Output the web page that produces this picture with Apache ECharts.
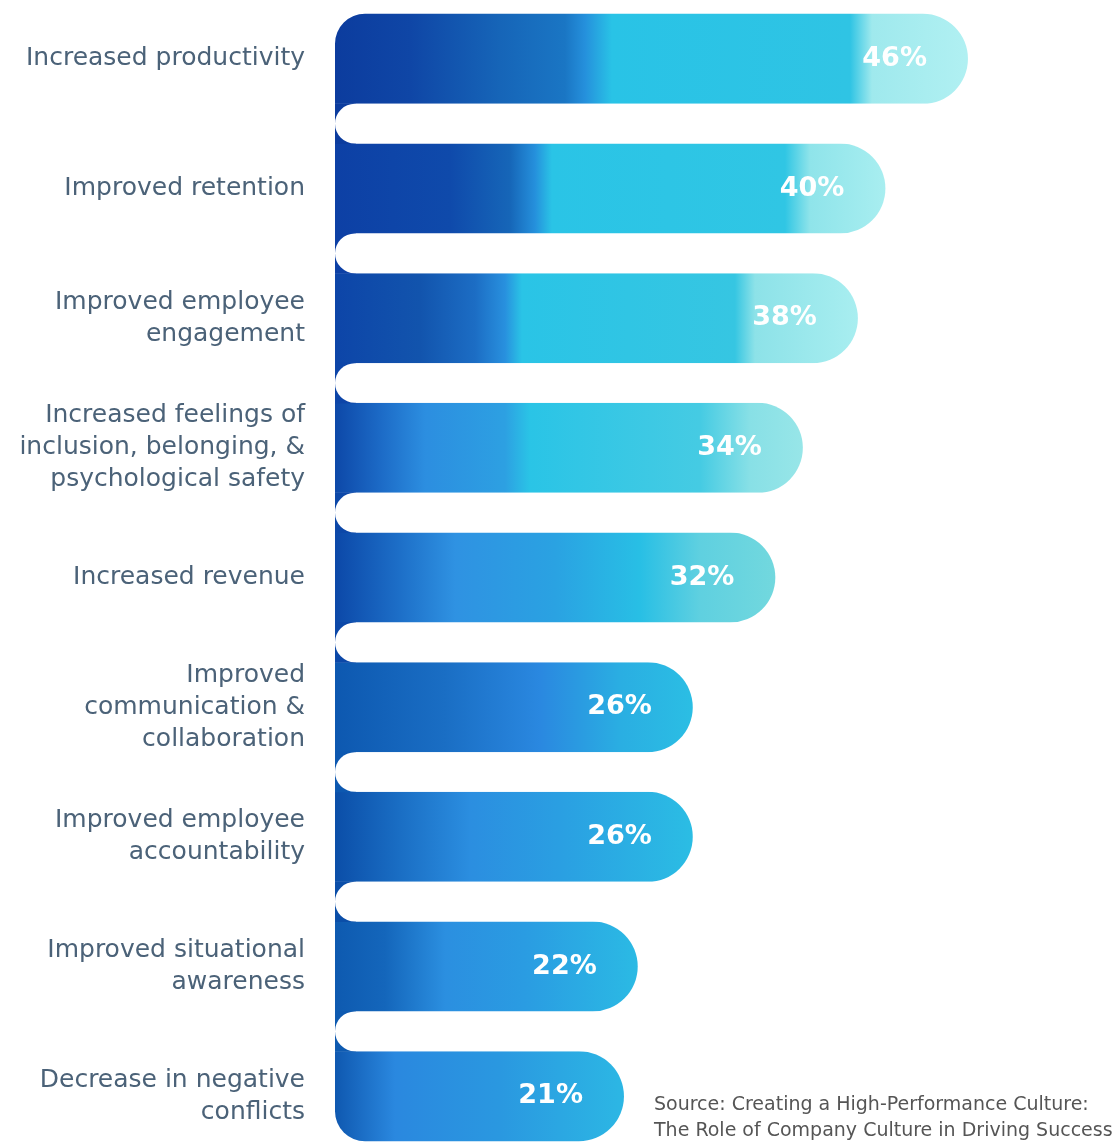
<!DOCTYPE html>
<html>
<head>
<meta charset="utf-8">
<script src="https://cdn.jsdelivr.net/npm/echarts@6/dist/echarts.min.js"></script>
<style>
  html, body { margin: 0; padding: 0; background: #ffffff; overflow: hidden; width: 1116px; height: 1142px; }
  #chart { position: relative; top: -6px; width: 1116px; height: 1167px; }
</style>
</head>
<body>
<div id="chart"></div>
<script>
const categories = [
  'Increased productivity',
  'Improved retention',
  'Improved employee\nengagement',
  'Increased feelings of\ninclusion, belonging, &\npsychological safety',
  'Increased revenue',
  'Improved\ncommunication &\ncollaboration',
  'Improved employee\naccountability',
  'Improved situational\nawareness',
  'Decrease in negative\nconflicts'
];
const values = [46, 40, 38, 34, 32, 26, 26, 22, 21];
const sourceLines = [
  'Source: Creating a High-Performance Culture:',
  'The Role of Company Culture in Driving Success'
];

// colour shading of each bar (style only): [pixel x, colour]
const barShades = [
  [[335,'#0c3c9e'],[410,'#0f46a6'],[500,'#1665b8'],[565,'#1a76c4'],[585,'#2590dc'],[612,'#29c3e6'],[850,'#2fc4e4'],[872,'#9fe9ed'],[965,'#b0f0f2']],
  [[335,'#0d40a5'],[450,'#0f4aab'],[510,'#1666b8'],[535,'#2590dc'],[552,'#2ac4e6'],[785,'#30c6e4'],[810,'#8fe4ea'],[885,'#a8eef0']],
  [[335,'#0d45a8'],[420,'#1254ad'],[475,'#1c6dc4'],[505,'#2890de'],[522,'#2ac4e6'],[735,'#36c6e2'],[755,'#8de2e8'],[858,'#a8eef0']],
  [[335,'#0d48a8'],[380,'#1c6ac6'],[425,'#2c8ee0'],[505,'#2da0e2'],[530,'#2ac4e6'],[700,'#45cbe3'],[750,'#88e0e6'],[805,'#98e6e8']],
  [[335,'#0c48a8'],[400,'#1d6fc8'],[455,'#2f92e2'],[555,'#2aa2e2'],[640,'#28bfe5'],[700,'#5fd0e0'],[775,'#72d8de']],
  [[335,'#0d58b0'],[445,'#1a6ec4'],[540,'#2a88e0'],[620,'#2aaee2'],[697,'#2bbfe4']],
  [[335,'#0b4ea8'],[400,'#1a6ec4'],[470,'#2b8ee0'],[560,'#2a9fe2'],[697,'#2bbee4']],
  [[335,'#0e5ab0'],[385,'#1466bb'],[445,'#2b8fe0'],[525,'#2a9ce2'],[638,'#2bbae4']],
  [[335,'#0f58b0'],[395,'#2a88df'],[500,'#2a98e0'],[620,'#2cb6e4']]
];

const X0 = 335, X1 = 965;
function shade(stops) {
  return new echarts.graphic.LinearGradient(X0, 0, X1, 0,
    stops.map(s => ({ offset: Math.min(1, (s[0] - X0) / (X1 - X0)), color: s[1] })), true);
}

const chart = echarts.init(document.getElementById('chart'));

const BAR_W = 90;
const last = values.length - 1;

const barData = values.map((v, i) => {
  let r = [0, 45, 45, 0];
  if (i === 0) r = [30, 45, 45, 0];
  if (i === last) r = [0, 45, 45, 30];
  return { value: v, itemStyle: { borderRadius: r, color: shade(barShades[i]) } };
});

const gapData = [];
for (let i = 0; i < last; i++) gapData.push([0, i]);

const option = {
  backgroundColor: '#ffffff',
  animation: false,
  grid: { left: 335, right: 93, top: 0, bottom: 0, containLabel: false },
  xAxis: { type: 'value', min: 0, max: 50, show: false },
  yAxis: {
    type: 'category',
    data: categories,
    inverse: true,
    axisLine: { show: false },
    axisTick: { show: false },
    splitLine: { show: false },
    axisLabel: {
      margin: 30,
      fontFamily: 'DejaVu Sans',
      fontSize: 25,
      lineHeight: 32,
      color: '#4b6278',
      align: 'right',
      padding: [8, 0, 0, 0]
    }
  },
  series: [
    {
      type: 'bar',
      data: barData,
      barWidth: BAR_W,
      label: {
        show: true,
        position: 'insideRight',
        distance: 41,
        formatter: '{c}%',
        color: '#ffffff',
        fontFamily: 'DejaVu Sans',
        fontWeight: 'bold',
        fontSize: 27
      },
      z: 2
    },
    {
      type: 'custom',
      data: gapData,
      z: 3,
      clip: false,
      renderItem: function (params, api) {
        const i = api.value(1);
        const p1 = api.coord([0, i]);
        const p2 = api.coord([0, i + 1]);
        const x0 = p1[0];
        const yTop = p1[1] + BAR_W / 2;
        const yBot = p2[1] - BAR_W / 2;
        const h = yBot - yTop;
        return {
          type: 'group',
          children: [
            {
              type: 'rect',
              shape: { x: x0, y: yTop - 0.5, width: h / 2 + 1, height: h + 1 },
              style: { fill: barShades[i][0][1] }
            },
            {
              type: 'rect',
              shape: { x: x0, y: yTop, width: 700, height: h, r: h / 2 },
              style: { fill: '#ffffff' }
            }
          ]
        };
      }
    }
  ],
  graphic: [
    {
      type: 'text',
      left: 654,
      top: 1098,
      style: {
        text: sourceLines.join('\n'),
        font: '19px "DejaVu Sans"',
        fill: '#555555',
        lineHeight: 26
      }
    }
  ]
};

chart.setOption(option);
</script>
</body>
</html>
